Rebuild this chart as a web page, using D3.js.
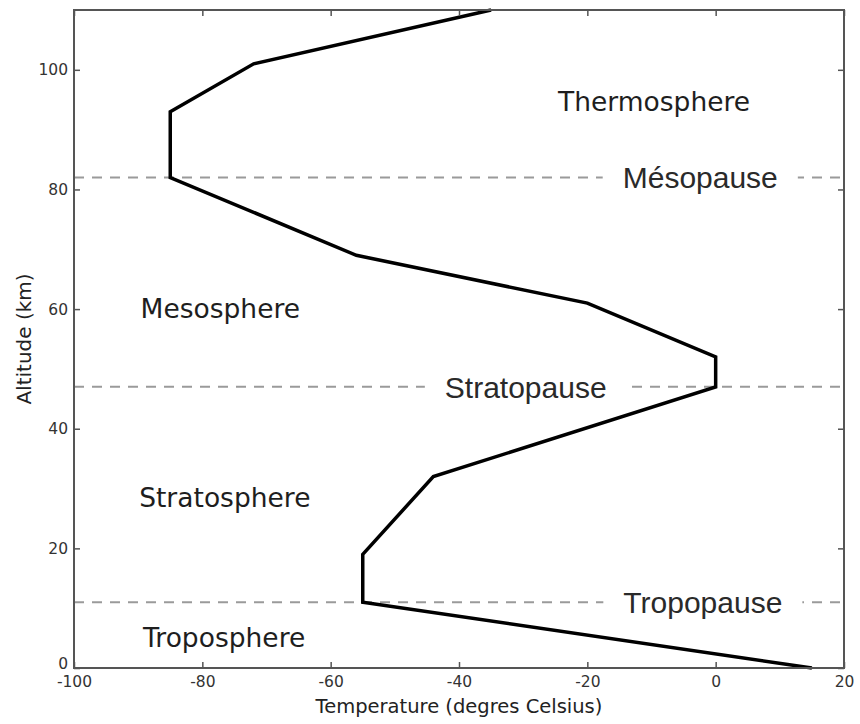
<!DOCTYPE html>
<html>
<head>
<meta charset="utf-8">
<script src="https://cdn.jsdelivr.net/npm/d3@7"></script>
<style>
  html, body { margin: 0; padding: 0; background: #fff; }
  svg { display: block; }
</style>
</head>
<body>
<div id="chart"></div>
<script>
// temperature profile
const temps = [15, -55, -55, -44, 0, 0, -20, -56, -85, -85, -72, -35];
const alts = [0, 11, 19, 32, 47, 52, 61, 69, 82, 93, 101, 110];

const xTicks = [-100, -80, -60, -40, -20, 0, 20];
const yTicks = [0, 20, 40, 60, 80, 100];

// layer names (temp, alt of label anchor)
const layerNames = ["Thermosphere", "Mesosphere", "Stratosphere", "Troposphere"];
const layerTemps = [-9.6, -77.2, -76.5, -76.6];
const layerAlts = [93.1, 58.5, 26.9, 3.5];

// boundaries
const pauseNames = ["Mésopause", "Stratopause", "Tropopause"];
const pauseAlts = [82, 47, 11];
const pauseTemps = [-2.4, -29.6, -2.0];

const width = 860;
const height = 724;
const margin = { top: 10, right: 16, bottom: 56, left: 74 };

const svg = d3
  .select("#chart")
  .append("svg")
  .attr("width", width)
  .attr("height", height);

const x = d3
  .scaleLinear()
  .domain([-100, 20])
  .range([margin.left, width - margin.right]);

const y = d3
  .scaleLinear()
  .domain([0, 110])
  .range([height - margin.bottom, margin.top]);

const fmt = (d) => String(d);
const axisColor = "#555";

// dashed boundary lines
svg
  .append("g")
  .selectAll("line")
  .data(pauseAlts)
  .enter()
  .append("line")
  .attr("x1", x(-100))
  .attr("x2", x(20))
  .attr("y1", (d) => y(d))
  .attr("y2", (d) => y(d))
  .attr("stroke", "#9a9a9a")
  .attr("stroke-width", 2)
  .attr("stroke-dasharray", "10,8");

// pause labels with white box
const pauseG = svg.append("g");
pauseNames.forEach((name, i) => {
  const g = pauseG.append("g");
  const t = g
    .append("text")
    .attr("x", x(pauseTemps[i]))
    .attr("y", y(pauseAlts[i]) + 11)
    .attr("text-anchor", "middle")
    .attr("font-family", "Liberation Sans, Arial, sans-serif")
    .attr("font-size", 30)
    .attr("fill", "#2a2a2a")
    .text(name);
  const bb = t.node().getBBox();
  g.insert("rect", "text")
    .attr("x", bb.x - 20)
    .attr("y", bb.y - 2)
    .attr("width", bb.width + 40)
    .attr("height", bb.height + 4)
    .attr("fill", "#fff");
});

// layer labels
svg
  .append("g")
  .selectAll("text")
  .data(layerNames)
  .enter()
  .append("text")
  .attr("x", (d, i) => x(layerTemps[i]))
  .attr("y", (d, i) => y(layerAlts[i]))
  .attr("text-anchor", "middle")
  .attr("font-family", "DejaVu Sans, sans-serif")
  .attr("font-size", 26.5)
  .attr("fill", "#1e1e1e")
  .text((d) => d);

// the temperature curve
const line = d3
  .line()
  .x((d) => x(d[0]))
  .y((d) => y(d[1]));

svg
  .append("path")
  .datum(temps.map((t, i) => [t, alts[i]]))
  .attr("fill", "none")
  .attr("stroke", "#000")
  .attr("stroke-width", 3.5)
  .attr("stroke-linejoin", "miter")
  .attr("d", line);

// axes, ticks pointing inward
function styleAxis(g) {
  g.select(".domain").remove();
  g.selectAll(".tick line").attr("stroke", axisColor).attr("stroke-width", 1.5);
  g.selectAll(".tick text")
    .attr("font-family", "DejaVu Sans, sans-serif")
    .attr("font-size", 15.5)
    .attr("fill", "#333");
}

svg
  .append("g")
  .attr("transform", `translate(0,${y(0)})`)
  .call(
    d3.axisBottom(x).tickValues(xTicks).tickFormat(fmt).tickSizeInner(-6).tickPadding(8)
  )
  .call(styleAxis);

svg
  .append("g")
  .attr("transform", `translate(0,${y(110)})`)
  .call(d3.axisTop(x).tickValues(xTicks).tickFormat("").tickSizeInner(-6))
  .call(styleAxis);

svg
  .append("g")
  .attr("transform", `translate(${x(-100)},0)`)
  .call(
    d3.axisLeft(y).tickValues(yTicks).tickFormat(fmt).tickSizeInner(-6).tickPadding(6)
  )
  .call(styleAxis)
  .call((g) =>
    // the corner "0" sits a little higher so it clears "-100"
    g.selectAll(".tick text").filter((d) => d === 0).attr("y", -4)
  );

svg
  .append("g")
  .attr("transform", `translate(${x(20)},0)`)
  .call(d3.axisRight(y).tickValues(yTicks).tickFormat("").tickSizeInner(-6))
  .call(styleAxis);

// frame
svg
  .append("rect")
  .attr("x", x(-100))
  .attr("y", y(110))
  .attr("width", x(20) - x(-100))
  .attr("height", y(0) - y(110))
  .attr("fill", "none")
  .attr("stroke", axisColor)
  .attr("stroke-width", 2);

// axis titles
svg
  .append("text")
  .attr("x", (x(-100) + x(20)) / 2)
  .attr("y", 713)
  .attr("text-anchor", "middle")
  .attr("font-family", "DejaVu Sans, sans-serif")
  .attr("font-size", 19.5)
  .attr("fill", "#222")
  .text("Temperature (degres Celsius)");

svg
  .append("text")
  .attr("transform", `translate(31,${(y(0) + y(110)) / 2}) rotate(-90)`)
  .attr("text-anchor", "middle")
  .attr("font-family", "DejaVu Sans, sans-serif")
  .attr("font-size", 20)
  .attr("fill", "#222")
  .text("Altitude (km)");
</script>
</body>
</html>
